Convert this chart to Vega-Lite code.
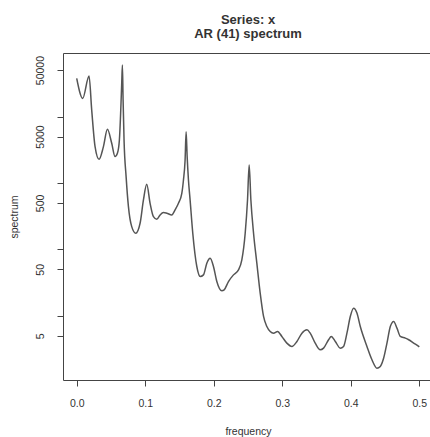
{
  "$schema": "https://vega.github.io/schema/vega-lite/v6.json",
  "autosize": {"type": "none"},
  "padding": {"left": 63, "top": 53, "right": 0, "bottom": 57},
  "width": 370,
  "height": 327,
  "background": "white",
  "config": {
    "font": "Liberation Sans",
    "view": {"stroke": "#444", "strokeWidth": 1},
    "axis": {"grid": false, "domain": false, "tickColor": "#444", "tickSize": 6, "labelColor": "#333", "titleColor": "#333", "labelFontSize": 10.5, "titleFontSize": 10.5, "titleFontWeight": "normal"}
  },
  "title": {
    "text": ["Series: x", "AR (41) spectrum"],
    "fontSize": 13,
    "fontWeight": "bold",
    "color": "#333",
    "lineHeight": 14,
    "anchor": "middle",
    "offset": 12
  },
  "data": {"values": [
    {"f": 0.0, "s": 37500},
    {"f": 0.0088, "s": 18750},
    {"f": 0.018, "s": 40600},
    {"f": 0.0219, "s": 12500},
    {"f": 0.0268, "s": 3520},
    {"f": 0.0326, "s": 2270},
    {"f": 0.039, "s": 3520},
    {"f": 0.0448, "s": 6410},
    {"f": 0.0511, "s": 3950},
    {"f": 0.056, "s": 2490},
    {"f": 0.0594, "s": 2790},
    {"f": 0.0623, "s": 4430},
    {"f": 0.0643, "s": 12500},
    {"f": 0.0657, "s": 31500},
    {"f": 0.0667, "s": 59400},
    {"f": 0.0677, "s": 17700},
    {"f": 0.0691, "s": 4430},
    {"f": 0.0721, "s": 1245},
    {"f": 0.0755, "s": 441},
    {"f": 0.0803, "s": 220},
    {"f": 0.0862, "s": 175},
    {"f": 0.0925, "s": 247},
    {"f": 0.0974, "s": 555},
    {"f": 0.1022, "s": 955},
    {"f": 0.1071, "s": 494},
    {"f": 0.112, "s": 311},
    {"f": 0.1169, "s": 284},
    {"f": 0.1217, "s": 330},
    {"f": 0.1266, "s": 358},
    {"f": 0.1315, "s": 350},
    {"f": 0.1388, "s": 330},
    {"f": 0.1436, "s": 393},
    {"f": 0.1485, "s": 494},
    {"f": 0.1534, "s": 698},
    {"f": 0.1558, "s": 1109},
    {"f": 0.1582, "s": 2218},
    {"f": 0.1597, "s": 5910},
    {"f": 0.1612, "s": 2490},
    {"f": 0.1631, "s": 1109},
    {"f": 0.1655, "s": 555},
    {"f": 0.1694, "s": 175},
    {"f": 0.1753, "s": 55.2},
    {"f": 0.1802, "s": 39.0},
    {"f": 0.185, "s": 41.3},
    {"f": 0.1899, "s": 61.9},
    {"f": 0.1948, "s": 73.6},
    {"f": 0.1996, "s": 55.2},
    {"f": 0.2045, "s": 32.8},
    {"f": 0.2118, "s": 23.8},
    {"f": 0.2152, "s": 24.6},
    {"f": 0.2215, "s": 32.8},
    {"f": 0.2288, "s": 41.3},
    {"f": 0.2361, "s": 49.1},
    {"f": 0.241, "s": 69.5},
    {"f": 0.2459, "s": 175},
    {"f": 0.2493, "s": 555},
    {"f": 0.2517, "s": 1862},
    {"f": 0.2542, "s": 555},
    {"f": 0.2581, "s": 175},
    {"f": 0.2629, "s": 61.9},
    {"f": 0.2678, "s": 21.9},
    {"f": 0.2727, "s": 9.77},
    {"f": 0.2775, "s": 6.9},
    {"f": 0.2824, "s": 5.81},
    {"f": 0.2873, "s": 5.48},
    {"f": 0.2931, "s": 5.81},
    {"f": 0.2994, "s": 4.89},
    {"f": 0.3067, "s": 3.88},
    {"f": 0.3141, "s": 3.46},
    {"f": 0.3214, "s": 4.11},
    {"f": 0.3287, "s": 5.48},
    {"f": 0.336, "s": 6.15},
    {"f": 0.3408, "s": 5.48},
    {"f": 0.3481, "s": 3.88},
    {"f": 0.3554, "s": 3.08},
    {"f": 0.3603, "s": 3.26},
    {"f": 0.3676, "s": 4.36},
    {"f": 0.3715, "s": 4.89},
    {"f": 0.3774, "s": 4.11},
    {"f": 0.3847, "s": 3.26},
    {"f": 0.3895, "s": 3.46},
    {"f": 0.3944, "s": 5.48},
    {"f": 0.3993, "s": 9.77},
    {"f": 0.4041, "s": 13.0},
    {"f": 0.409, "s": 11.0},
    {"f": 0.4139, "s": 6.9},
    {"f": 0.4236, "s": 3.46},
    {"f": 0.4309, "s": 2.18},
    {"f": 0.4382, "s": 1.63},
    {"f": 0.4431, "s": 1.73},
    {"f": 0.448, "s": 2.31},
    {"f": 0.4528, "s": 3.88},
    {"f": 0.4577, "s": 6.9},
    {"f": 0.4626, "s": 8.22},
    {"f": 0.4674, "s": 6.52},
    {"f": 0.4723, "s": 4.89},
    {"f": 0.4796, "s": 4.61},
    {"f": 0.4845, "s": 4.36},
    {"f": 0.4918, "s": 3.88},
    {"f": 0.4991, "s": 3.46},
    {"f": 0.5, "s": 3.4}
  ]},
  "mark": {"type": "line", "stroke": "#555", "strokeWidth": 1.5, "interpolate": "monotone"},
  "encoding": {
    "x": {
      "field": "f", "type": "quantitative",
      "scale": {"domain": [-0.02, 0.52], "nice": false, "zero": false},
      "axis": {"title": "frequency", "values": [0, 0.1, 0.2, 0.3, 0.4, 0.5], "format": ".1f", "labelPadding": 12, "titlePadding": 18, "labelFlush": false}
    },
    "y": {
      "field": "s", "type": "quantitative",
      "scale": {"type": "log", "domain": [1.08, 90400], "nice": false, "zero": false},
      "axis": {"title": "spectrum", "values": [5, 10, 50, 100, 500, 1000, 5000, 10000, 50000],
        "labelExpr": "datum.value == 5 || datum.value == 50 || datum.value == 500 || datum.value == 5000 || datum.value == 50000 ? datum.label : ''",
        "format": "d", "labelAngle": -90, "labelAlign": "center", "labelBaseline": "bottom", "labelPadding": 12, "titlePadding": 16, "labelFlush": false}
    }
  }
}
